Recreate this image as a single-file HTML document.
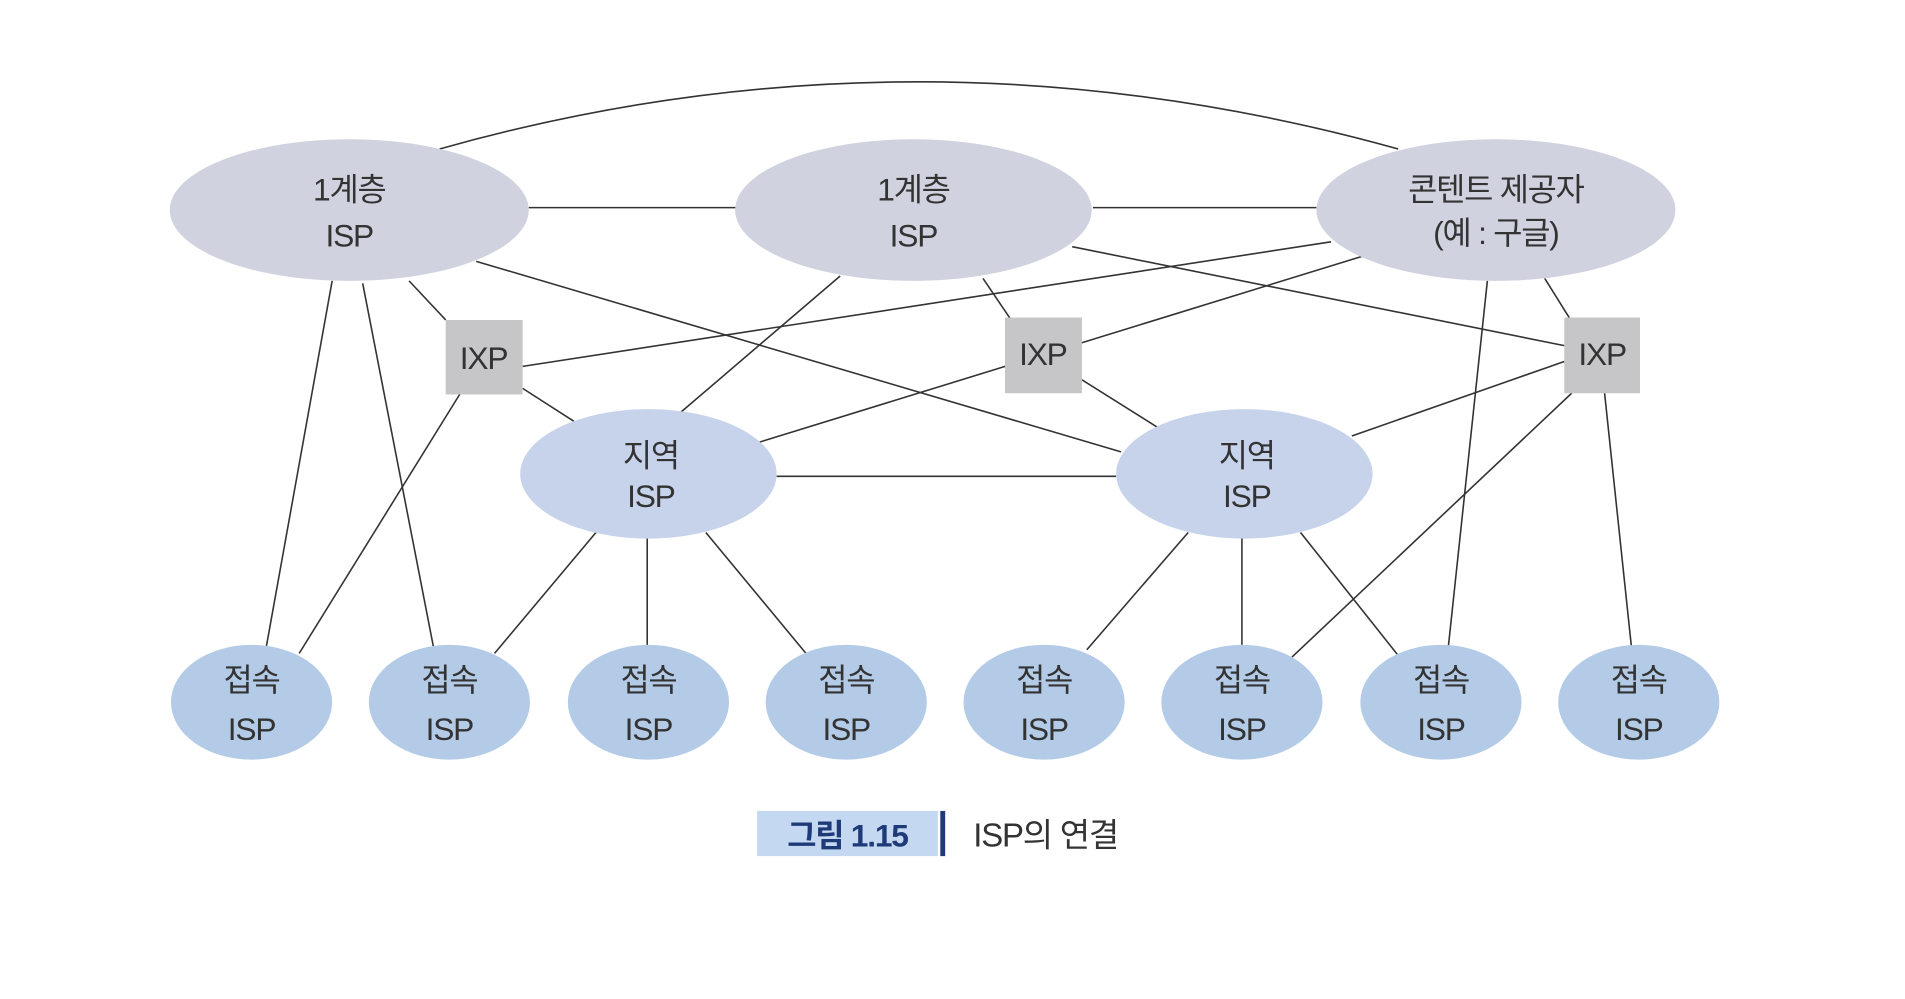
<!DOCTYPE html>
<html><head><meta charset="utf-8"><style>
html,body{margin:0;padding:0;background:#fff;}
svg{display:block}
text{font-family:"Liberation Sans","Noto Sans CJK KR",sans-serif;fill:#333;text-anchor:middle;letter-spacing:-1px}
</style></head><body>
<svg width="1905" height="999" viewBox="0 0 1560 818" preserveAspectRatio="none">
<g stroke="#333" stroke-width="1.3" fill="none">
<path d="M360,122 Q750,12 1145,122"/>
<line x1="433" y1="170" x2="603" y2="170"/>
<line x1="895" y1="170" x2="1078" y2="170"/>
<line x1="335" y1="230" x2="365" y2="262"/>
<line x1="428" y1="318" x2="470" y2="345"/>
<line x1="390" y1="214" x2="918" y2="370"/>
<line x1="272" y1="230" x2="218" y2="530"/>
<line x1="297" y1="232" x2="355" y2="530"/>
<line x1="377" y1="322" x2="245" y2="535"/>
<line x1="428" y1="300" x2="1090" y2="198"/>
<line x1="688" y1="226" x2="557" y2="338"/>
<line x1="805" y1="228" x2="828" y2="262"/>
<line x1="878" y1="202" x2="1281" y2="283"/>
<line x1="886" y1="311" x2="948" y2="350"/>
<line x1="1115" y1="210" x2="622" y2="362"/>
<line x1="1265" y1="228" x2="1285" y2="260"/>
<line x1="1218" y1="230" x2="1186" y2="530"/>
<line x1="1281" y1="296" x2="1107" y2="357"/>
<line x1="1287" y1="322" x2="1058" y2="538"/>
<line x1="1314" y1="322" x2="1336" y2="530"/>
<line x1="636" y1="390" x2="914" y2="390"/>
<line x1="488" y1="436" x2="405" y2="535"/>
<line x1="530" y1="440" x2="530" y2="528"/>
<line x1="578" y1="436" x2="660" y2="535"/>
<line x1="973" y1="436" x2="890" y2="532"/>
<line x1="1017" y1="440" x2="1017" y2="528"/>
<line x1="1065" y1="436" x2="1146" y2="538"/>
</g>
<g fill="#d0d3df">
<ellipse cx="286" cy="172" rx="147" ry="58"/>
<ellipse cx="748" cy="172" rx="146" ry="58"/>
<ellipse cx="1225" cy="172" rx="147" ry="58"/>
</g>
<g fill="#c6c6c8">
<rect x="365" y="262" width="63" height="61"/>
<rect x="823" y="260" width="63" height="62"/>
<rect x="1281" y="260" width="62" height="62"/>
</g>
<g fill="#c6d3ea">
<ellipse cx="531" cy="388" rx="105" ry="53"/>
<ellipse cx="1019" cy="388" rx="105" ry="53"/>
</g>
<g fill="#b4cbe7">
<ellipse cx="206" cy="575" rx="66" ry="47"/>
<ellipse cx="368" cy="575" rx="66" ry="47"/>
<ellipse cx="531" cy="575" rx="66" ry="47"/>
<ellipse cx="693" cy="575" rx="66" ry="47"/>
<ellipse cx="855" cy="575" rx="66" ry="47"/>
<ellipse cx="1017" cy="575" rx="66" ry="47"/>
<ellipse cx="1180" cy="575" rx="66" ry="47"/>
<ellipse cx="1342" cy="575" rx="66" ry="47"/>
</g>
<g font-size="26">
<text x="286" y="164">1계층</text><text x="286" y="202">ISP</text>
<text x="748" y="164">1계층</text><text x="748" y="202">ISP</text>
<text x="1225" y="164">콘텐트 제공자</text><text x="1225" y="200">(예 : 구글)</text>
<text x="396" y="302">IXP</text><text x="854" y="299">IXP</text><text x="1312" y="299">IXP</text>
<text x="533" y="382">지역</text><text x="533" y="415">ISP</text>
<text x="1021" y="382">지역</text><text x="1021" y="415">ISP</text>
<text x="206" y="566">접속</text><text x="206" y="606">ISP</text>
<text x="368" y="566">접속</text><text x="368" y="606">ISP</text>
<text x="531" y="566">접속</text><text x="531" y="606">ISP</text>
<text x="693" y="566">접속</text><text x="693" y="606">ISP</text>
<text x="855" y="566">접속</text><text x="855" y="606">ISP</text>
<text x="1017" y="566">접속</text><text x="1017" y="606">ISP</text>
<text x="1180" y="566">접속</text><text x="1180" y="606">ISP</text>
<text x="1342" y="566">접속</text><text x="1342" y="606">ISP</text>
</g>
<rect x="620" y="664" width="148" height="37" fill="#c4d9f1"/>
<rect x="770" y="664" width="4" height="37" fill="#1f3a78"/>
<text x="694" y="693" font-size="26" font-weight="bold" style="fill:#1f3a78">그림 1.15</text>
<text x="797" y="693" font-size="27" style="text-anchor:start">ISP의 연결</text>
</svg>
</body></html>
